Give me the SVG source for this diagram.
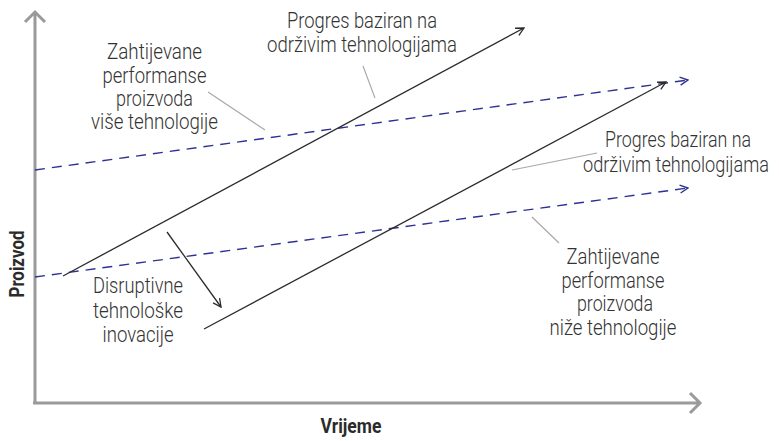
<svg xmlns="http://www.w3.org/2000/svg" width="779" height="441" viewBox="0 0 779 441">
<defs>
<style>
.axis{stroke:#9a9a9c;stroke-width:3;fill:none}
.solid{stroke:#2b2b2b;stroke-width:1.3;fill:none}
.dash{stroke:#2e3192;stroke-width:1.4;fill:none;stroke-dasharray:10 7}
.lead{stroke:#a8a8a8;stroke-width:1.2;fill:none}
.t{font-family:Roboto,"Liberation Sans",sans-serif;font-weight:300;font-size:22px;fill:#333333;text-anchor:middle}
.e{text-anchor:end}
.b{font-family:Roboto,"Liberation Sans",sans-serif;font-weight:700;font-size:20px;fill:#2b2b2b;text-anchor:middle}
</style>
<marker id="ak" viewBox="0 0 10 10" refX="9" refY="5" markerWidth="10" markerHeight="10" markerUnits="userSpaceOnUse" orient="auto">
<path d="M1,1 L9,5 L1,9" fill="none" stroke="#2b2b2b" stroke-width="1.3"/>
</marker>
<marker id="ab" viewBox="0 0 10 10" refX="9" refY="5" markerWidth="10" markerHeight="10" markerUnits="userSpaceOnUse" orient="auto">
<path d="M1,1 L9,5 L1,9" fill="none" stroke="#2e3192" stroke-width="1.4"/>
</marker>
</defs>
<g id="axes">
<path class="axis" d="M35,404 L35,12 M25,22 L35,12 L45,22"/>
<path class="axis" d="M33,403 L700,403 M690,393 L700,403 L690,413"/>
<text class="b" x="351" y="433" textLength="61" lengthAdjust="spacingAndGlyphs">Vrijeme</text>
<text class="b" transform="translate(24,264) rotate(-90)" x="0" y="0" textLength="67" lengthAdjust="spacingAndGlyphs">Proizvod</text>
</g>
<g id="connectors">
<line class="dash" x1="35" y1="170" x2="688" y2="80" marker-end="url(#ab)"/>
<line class="dash" x1="35" y1="277" x2="688" y2="188" marker-end="url(#ab)"/>
<line class="solid" x1="63" y1="276" x2="524" y2="28" marker-end="url(#ak)"/>
<line class="solid" x1="204" y1="329" x2="666" y2="82" marker-end="url(#ak)"/>
<line class="solid" x1="167" y1="232" x2="221" y2="307" marker-end="url(#ak)"/>
<line class="lead" x1="208" y1="92" x2="265" y2="130"/>
<line class="lead" x1="363" y1="66" x2="375" y2="98"/>
<line class="lead" x1="597" y1="153" x2="512" y2="170"/>
<line class="lead" x1="532" y1="217" x2="559" y2="243"/>
</g>
<g id="label-visa">
<text class="t" x="154.5" y="59" textLength="95" lengthAdjust="spacingAndGlyphs">Zahtijevane</text>
<text class="t" x="154.5" y="83" textLength="104" lengthAdjust="spacingAndGlyphs">performanse</text>
<text class="t" x="154.5" y="106" textLength="77" lengthAdjust="spacingAndGlyphs">proizvoda</text>
<text class="t" x="154.5" y="129" textLength="127" lengthAdjust="spacingAndGlyphs">više tehnologije</text>
</g>
<g id="label-progres-top">
<text class="t" x="362" y="28" textLength="150" lengthAdjust="spacingAndGlyphs">Progres baziran na</text>
<text class="t" x="362" y="52" textLength="190" lengthAdjust="spacingAndGlyphs">održivim tehnologijama</text>
</g>
<g id="label-progres-right">
<text class="t e" x="751" y="147" textLength="146" lengthAdjust="spacingAndGlyphs">Progres baziran na</text>
<text class="t e" x="769" y="172" textLength="186" lengthAdjust="spacingAndGlyphs">održivim tehnologijama</text>
</g>
<g id="label-nize">
<text class="t" x="613" y="264" textLength="93" lengthAdjust="spacingAndGlyphs">Zahtijevane</text>
<text class="t" x="613" y="288" textLength="103" lengthAdjust="spacingAndGlyphs">performanse</text>
<text class="t" x="615" y="311" textLength="76" lengthAdjust="spacingAndGlyphs">proizvoda</text>
<text class="t" x="613" y="335" textLength="127" lengthAdjust="spacingAndGlyphs">niže tehnologije</text>
</g>
<g id="label-disruptivne">
<text class="t" x="138" y="293" textLength="90" lengthAdjust="spacingAndGlyphs">Disruptivne</text>
<text class="t" x="138" y="318" textLength="90" lengthAdjust="spacingAndGlyphs">tehnološke</text>
<text class="t" x="138" y="342" textLength="71" lengthAdjust="spacingAndGlyphs">inovacije</text>
</g>
</svg>
